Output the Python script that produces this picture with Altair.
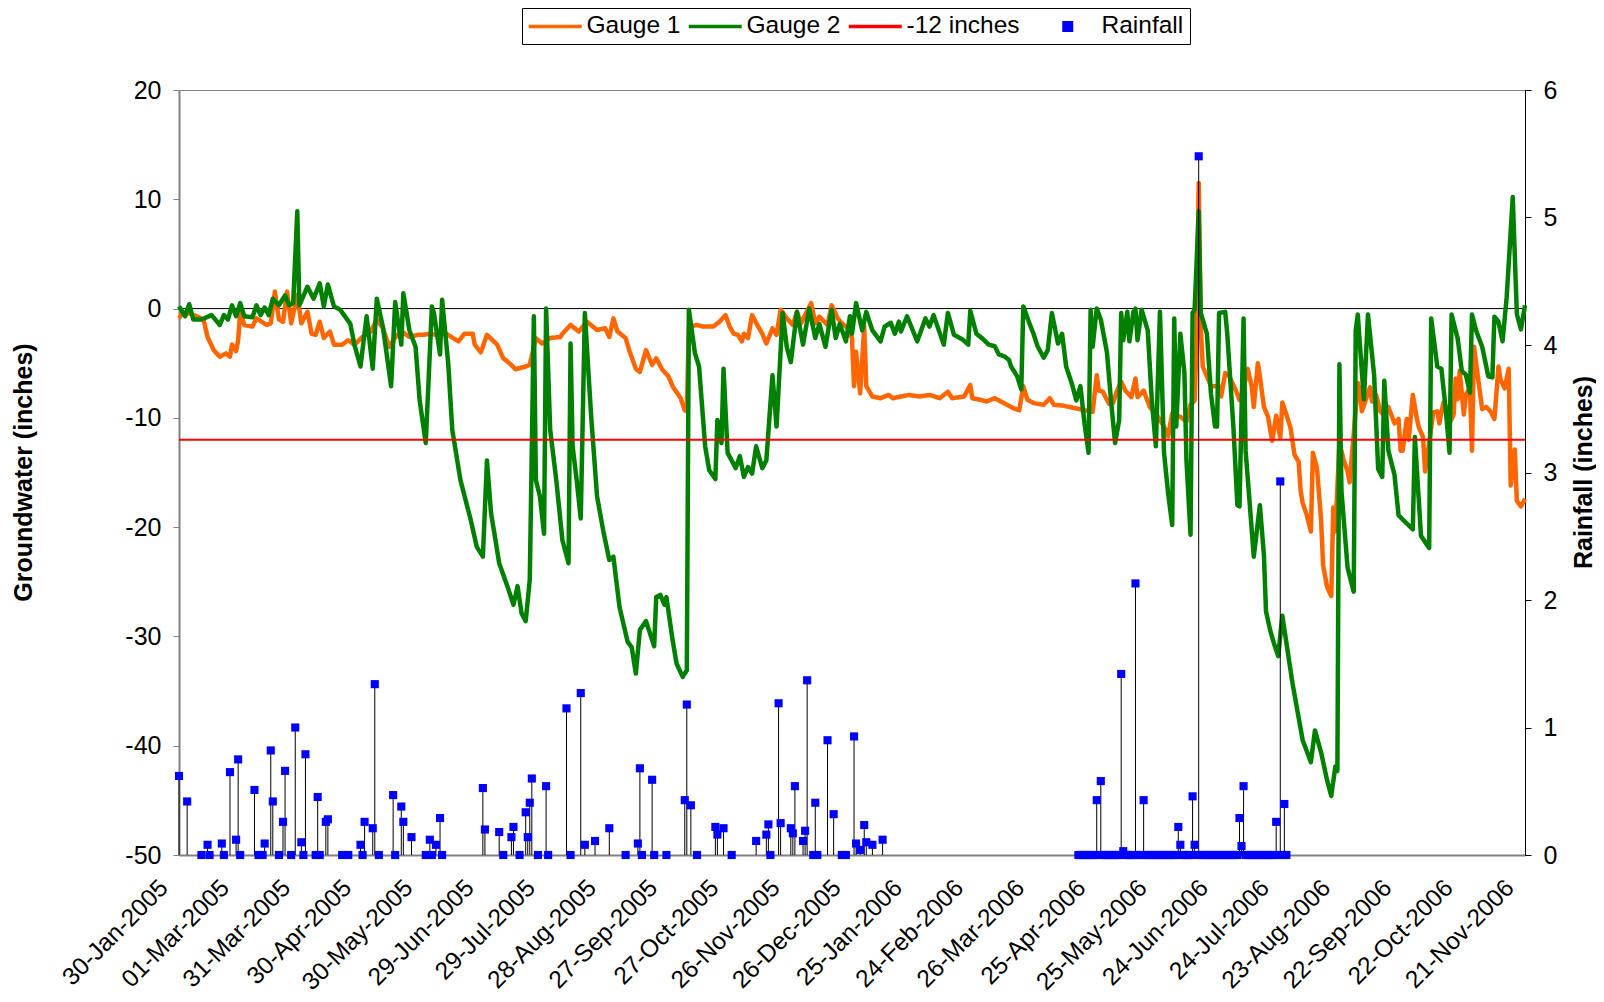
import altair as alt
import pandas as pd

START = "2005-01-30"
END_DAY = 660
TICK_DAYS = [0, 30, 60, 90, 120, 150, 180, 210, 240, 270, 300, 330, 360, 390, 420, 450, 480, 510, 540, 570, 600, 630, 660]

SERIES = ["Gauge 1", "Gauge 2", "-12 inches", "Rainfall"]
COLORS = ["#FF6600", "#008000", "#FF0000", "#0000FF"]

# Gauge 1 (days since 30-Jan-2005, inches)
g1_day = [0, 2, 5, 9, 12, 14, 17, 20, 23, 25, 26, 28, 29, 30, 32, 36, 38, 43, 45, 47, 49, 51, 53, 55, 58, 60, 63, 65, 67, 69,
          71, 74, 76, 80, 83, 86, 90, 94, 97, 100, 103, 107, 110, 113, 117, 120, 123, 126, 131, 137, 140, 144, 145, 148, 151,
          156, 159, 162, 165, 170, 172, 175, 178, 182, 187, 188, 192, 196, 200, 205, 209, 211, 213, 215, 219, 221, 224, 226,
          229, 232, 234, 237, 240, 242, 246, 248, 249, 250, 254, 257, 262, 265, 268, 270, 272, 274, 276, 277, 279, 281, 284,
          286, 288, 291, 293, 295, 298, 301, 303, 305, 310, 312, 314, 318, 320, 323, 325, 328, 330, 331, 332, 334, 336, 337,
          340, 344, 348, 350, 354, 358, 363, 368, 373, 377, 379, 385, 388, 389, 393, 396, 400, 403, 406, 409, 412, 414, 416,
          419, 424, 427, 429, 434, 439, 444, 448, 450, 451, 453, 456, 458, 460, 462, 464, 467, 469, 470, 473, 476, 480, 483,
          485, 487, 491, 494, 496, 498, 499, 500, 501, 502, 504, 506, 510, 511, 513, 515, 518, 520, 522, 524, 526, 527, 529,
          530, 532, 534, 536, 538, 540, 541, 543, 545, 547, 549, 550, 551, 553, 554, 555, 556, 558, 560, 561, 563, 565, 566,
          567, 569, 571, 573, 574, 576, 578, 579, 580, 582, 584, 585, 587, 589, 591, 593, 596, 598, 599, 600, 602, 603, 605,
          607, 608, 610, 611, 613, 615, 617, 618, 620, 622, 623, 625, 626, 627, 628, 630, 631, 633, 634, 635, 637, 639, 641,
          643, 645, 647, 648, 650, 652, 653, 655, 656, 658, 660]
g1_val = [-0.9, -0.3, -0.45, -0.74, -1.0, -2.6, -3.8, -4.4, -4.1, -4.4, -3.3, -3.9, -2.9, -0.3, -1.5, -1.65, -0.9, -1.5, -1.35,
          1.55, -1.0, -1.2, 1.55, -1.35, 1.24, -1.35, -0.3, -2.3, -2.4, -1.2, -2.7, -2.1, -3.3, -3.3, -2.9, -3.3, -2.6, -2.1,
          -1.0, -1.8, -3.5, -2.4, -2.2, -2.6, -2.4, -2.4, -2.3, -2.4, -2.3, -3.0, -2.3, -2.3, -3.3, -4.0, -2.4, -3.3, -4.55,
          -5.0, -5.55, -5.3, -5.15, -2.7, -3.2, -2.7, -2.6, -2.3, -1.5, -2.1, -1.2, -1.96, -1.8, -2.6, -0.9, -2.1, -2.7,
          -3.95, -5.5, -5.8, -3.8, -5.15, -4.55, -5.6, -6.2, -7.1, -8.2, -9.3, -9.4, -1.65, -1.5, -1.65, -1.65, -1.2, -0.6,
          -1.65, -2.3, -2.4, -3.0, -2.3, -2.7, -0.6, -1.65, -2.3, -3.2, -1.8, -2.4, -0.1, -0.9, -1.5, -0.3, -1.35, 0.5, -1.35,
          -0.74, -1.5, 0.3, -0.9, -1.35, -1.8, -2.7, -7.1, -3.95, -7.75, -1.65, -7.1, -8.05, -8.2, -7.9, -8.2, -8.05, -7.9,
          -8.05, -7.9, -8.2, -7.6, -8.2, -8.05, -7.0, -8.2, -8.35, -8.5, -8.2, -8.5, -8.8, -9.1, -9.3, -7.1, -8.35, -8.65,
          -8.8, -8.2, -8.8, -8.9, -9.1, -9.3, -9.45, -6.1, -7.5, -7.6, -8.7, -8.65, -7.5, -6.7, -7.5, -8.1, -6.4, -8.1, -7.5,
          -9.0, -9.9, -10.8, -11.7, -9.6, -9.9, -10.35, -8.8, -8.4, -2.9, 11.5, -1.65, -5.3, -6.2, -7.1, -7.1, -8.05, -5.9,
          -6.2, -7.4, -8.35, -7.4, -5.5, -7.1, -9.0, -5.0, -6.2, -9.0, -9.9, -12.1, -9.8, -11.8, -8.6, -9.7, -10.9, -13.4,
          -14.0, -16.7, -17.8, -18.9, -19.65, -20.4, -13.2, -14.6, -19.3, -23.5, -25.5, -26.3, -18.2, -20.4, -12.3, -13.8,
          -14.9, -15.9, -11.5, -6.8, -7.6, -9.4, -8.3, -7.2, -8.5, -7.9, -9.4, -9.8, -9.0, -10.5, -10.1, -13.0, -13.0, -10.1,
          -12.0, -7.9, -10.1, -10.9, -11.75, -14.9, -12.3, -9.5, -9.4, -10.5, -8.6, -9.2, -10.5, -9.7, -6.4, -8.3, -5.7, -9.7,
          -7.9, -7.2, -13.0, -3.5, -6.4, -9.2, -9.0, -9.4, -10.1, -5.3, -6.5, -7.3, -5.5, -16.2, -12.9, -17.6, -18.1, -17.4]

# Gauge 2
g2_day = [0, 3, 5, 7, 11, 16, 20, 22, 24, 26, 28, 30, 32, 36, 38, 40, 42, 44, 46, 49, 52, 54, 56, 58, 59, 63, 66, 69, 71, 73,
          76, 79, 84, 86, 89, 92, 95, 97, 100, 104, 106, 109, 110, 113, 116, 118, 121, 124, 125, 128, 129, 132, 134, 138, 143,
          146, 149, 151, 153, 157, 161, 164, 166, 168, 170, 172, 174, 175, 177, 179, 180, 182, 185, 188, 191, 192, 193, 195,
          197, 199, 202, 205, 208, 211, 213, 216, 220, 222, 224, 226, 229, 233, 234, 236, 238, 239, 242, 244, 247, 249, 250,
          253, 255, 258, 260, 263, 264, 266, 267, 269, 273, 275, 277, 279, 281, 283, 286, 288, 291, 293, 296, 298, 300, 303,
          306, 309, 312, 314, 317, 320, 322, 324, 327, 329, 330, 332, 335, 337, 340, 344, 346, 349, 351, 353, 354, 357, 362,
          366, 368, 370, 375, 377, 380, 384, 387, 388, 391, 394, 397, 400, 402, 405, 407, 408, 411, 413, 414, 417, 419, 421,
          424, 426, 428, 431, 433, 435, 438, 440, 442, 444, 446, 447, 448, 450, 452, 455, 457, 459, 461, 462, 463, 465, 466,
          468, 469, 470, 472, 475, 477, 479, 481, 483, 485, 487, 488, 489, 491, 493, 494, 496, 497, 498, 500, 501, 504, 506,
          508, 509, 510, 513, 514, 517, 519, 520, 522, 523, 525, 527, 530, 532, 533, 535, 537, 539, 541, 546, 551, 555, 557,
          560, 563, 565, 567, 568, 569, 570, 573, 576, 577, 578, 581, 583, 586, 588, 590, 591, 593, 596, 598, 600, 605, 606,
          609, 613, 614, 617, 619, 621, 623, 624, 627, 629, 631, 633, 634, 636, 639, 642, 644, 645, 647, 649, 651, 654, 656,
          658, 660]
g2_val = [0.2, -0.7, 0.4, -1.0, -1.0, -0.6, -1.5, -0.6, -1.0, 0.3, -0.7, 0.5, -0.7, -0.8, 0.3, -0.6, 0.1, -0.6, 0.9, 0.3,
          1.2, 0.3, 0.5, 8.9, 0.3, 2.0, 0.9, 2.3, 0.2, 2.2, 0.2, -0.1, -1.4, -3.3, -5.3, -0.7, -5.5, 0.9, -1.7, -7.1, 0.6,
          -3.3, 1.4, -2.0, -3.5, -8.4, -12.3, 0.2, -0.4, -4.2, 0.8, -5.0, -11.1, -15.7, -19.3, -21.8, -22.7, -13.9, -18.7,
          -23.3, -25.4, -27.1, -25.4, -27.9, -28.6, -24.8, -0.7, -15.7, -17.2, -20.6, 0.0, -11.1, -15.7, -21.2, -23.3, -3.2,
          -12.6, -15.7, -19.2, -0.4, -9.6, -17.2, -20.3, -23.0, -22.7, -27.3, -30.5, -31.0, -33.4, -29.4, -28.6, -30.9,
          -26.4, -26.2, -27.1, -26.4, -30.3, -32.5, -33.7, -33.1, -0.1, -4.1, -5.3, -12.6, -14.8, -15.6, -10.2, -12.3, -5.5,
          -13.2, -14.6, -13.5, -15.4, -14.5, -15.1, -12.6, -14.6, -13.9, -6.1, -10.8, -0.4, -3.5, -4.9, -0.3, -3.3, 0.0,
          -2.7, -1.4, -3.5, -0.1, -2.7, -1.4, -3.0, -0.7, -2.3, 0.5, -2.0, -0.3, -2.0, -3.0, -1.65, -1.3, -2.3, -1.2, -2.1,
          -0.7, -3.0, -0.9, -1.65, -0.6, -3.3, -0.4, -2.4, -2.8, -3.3, -0.2, -2.3, -2.75, -3.3, -3.45, -4.2, -4.4, -4.7,
          -5.3, -6.2, -7.4, 0.2, -1.35, -2.3, -3.45, -4.5, -3.8, -0.4, -3.2, -2.3, -5.3, -7.0, -8.4, -7.1, -10.5, -13.2,
          -0.1, -3.5, 0.0, -1.0, -4.0, -8.4, -12.3, -10.2, -0.4, -2.9, -0.3, -3.0, -0.3, 0.0, -2.9, -0.1, -2.0, -8.4, -12.6,
          -0.3, -13.2, -16.9, -19.8, -0.9, -10.8, -2.3, -5.9, -13.9, -20.7, -0.4, -0.1, 8.9, -0.4, -2.3, -7.75, -10.8,
          -10.8, -0.4, -0.3, -2.3, -10.8, -18.0, -18.1, -0.9, -13.0, -17.8, -22.7, -18.0, -22.6, -27.7, -29.4, -30.7,
          -31.8, -28.1, -34.3, -39.5, -41.5, -38.6, -40.6, -43.2, -44.6, -41.9, -42.3, -5.1, -16.7, -23.7, -25.9, -2.0,
          -0.55, -8.3, -0.55, -6.05, -14.7, -15.4, -6.6, -13.0, -15.2, -18.9, -19.3, -20.2, -11.75, -20.8, -21.9, -0.9,
          -5.3, -5.5, -9.0, -13.2, -0.55, -2.75, -5.7, -6.05, -7.7, -0.55, -2.0, -3.5, -6.2, -6.3, -0.75, -1.2, -3.0, 1.0,
          10.2, -0.5, -1.9, 0.3]

# Rainfall, 2005 season (days since 30-Jan-2005, inches)
rain_day = [0, 4, 11, 14, 15, 21, 22, 25, 28, 29, 30, 37, 39, 41, 42, 45, 46, 49, 51, 52, 55, 57, 60, 61, 62, 67, 68, 69, 72,
            73, 80, 83, 89, 90, 91, 95, 96, 98, 105, 106, 109, 110, 114, 121, 123, 124, 126, 128, 129, 149, 150, 157, 159,
            163, 164, 167, 170, 171, 172, 173, 176, 180, 181, 190, 192, 197, 199, 204, 211, 219, 225, 226, 227, 232, 233,
            239, 248, 249, 251, 254, 263, 264, 267, 271, 283, 288, 289, 290, 294, 295, 300, 301, 302, 306, 307, 308, 311,
            312, 313, 318, 321, 325, 327, 331, 332, 334, 336, 337, 340, 345]
rain_in = [0.62, 0.42, 0.0, 0.08, 0.0, 0.09, 0.0, 0.65, 0.12, 0.75, 0.0, 0.51, 0.0, 0.0, 0.09, 0.82, 0.42, 0.0, 0.26, 0.66,
           0.0, 1.0, 0.1, 0.0, 0.79, 0.0, 0.455, 0.0, 0.26, 0.28, 0.0, 0.0, 0.08, 0.0, 0.26, 0.21, 1.34, 0.0, 0.47, 0.0,
           0.38, 0.26, 0.14, 0.0, 0.12, 0.0, 0.08, 0.29, 0.0, 0.525, 0.2, 0.18, 0.0, 0.14, 0.22, 0.0, 0.335, 0.14, 0.41,
           0.6, 0.0, 0.54, 0.0, 1.15, 0.0, 1.27, 0.08, 0.11, 0.21, 0.0, 0.09, 0.68, 0.0, 0.59, 0.0, 0.0, 0.43, 1.18, 0.39,
           0.0, 0.22, 0.16, 0.21, 0.0, 0.11, 0.16, 0.24, 0.0, 1.19, 0.25, 0.21, 0.17, 0.54, 0.11, 0.19, 1.37, 0.0, 0.41, 0.0,
           0.9, 0.32, 0.0, 0.0, 0.93, 0.09, 0.04, 0.235, 0.1, 0.08, 0.12]

# Rainfall, 2006 season: daily readings from day 441 to day 543
RAIN06_START = 441
rain06_in = [0, 0, 0, 0, 0, 0, 0, 0, 0, 0.43, 0, 0.58, 0, 0, 0, 0, 0, 0, 0, 0, 0, 1.42, 0.03, 0, 0, 0, 0, 0, 2.13, 0, 0, 0,
             0.43, 0, 0, 0, 0, 0, 0, 0, 0, 0, 0, 0, 0, 0, 0, 0, 0, 0.22, 0.08, 0, 0, 0, 0, 0, 0.46, 0.08, 0, 5.48, 0, 0, 0,
             0, 0, 0, 0, 0, 0, 0, 0, 0, 0, 0, 0, 0, 0, 0, 0, 0.29, 0.07, 0.54, 0, 0, 0, 0, 0, 0, 0, 0, 0, 0, 0, 0, 0, 0, 0,
             0.26, 0, 2.93, 0, 0.40, 0]

FONT = "Liberation Sans"
MINUS_FIX = "replace(datum.label, '\u2212', '-')"
base = pd.Timestamp(START)


def to_ms(days):
    return [int((base + pd.Timedelta(days=d)).value // 10**6) for d in days]


lines_df = pd.DataFrame({
    "t": to_ms(g1_day) + to_ms(g2_day),
    "v": g1_val + g2_val,
    "series": ["Gauge 1"] * len(g1_day) + ["Gauge 2"] * len(g2_day),
})
r_days = rain_day + [RAIN06_START + i for i in range(len(rain06_in))]
rain_df = pd.DataFrame({"t": to_ms(r_days), "r": rain_in + rain06_in})
red_df = pd.DataFrame({"y": [-12]})
zero_df = pd.DataFrame({"y": [0]})
legend_df = pd.DataFrame({"series": SERIES})

start_ms, end_ms = to_ms([0, END_DAY])
x_enc = alt.X(
    "t:T",
    title=None,
    scale=alt.Scale(type="utc", domain=[start_ms, end_ms]),
    axis=alt.Axis(values=to_ms(TICK_DAYS), format="%d-%b-%Y", labelAngle=315, labelAlign="right",
                  labelBaseline="middle", labelPadding=29, labelOffset=-15, ticks=False, labelFontSize=24.5,
                  domainColor="#808080", domainWidth=2, labelFlush=False, labelOverlap=False, labelBound=False),
)

# legend: line-shaped symbols for the three lines, a square for rainfall
# (the square's path carries a leading move-to so that its entry keeps a wider left margin)
LINE_SYM = "M-2.3,0H8.3"
SQUARE_SYM = "M-5.6,0M1.75,-0.75H3.25V0.75H1.75Z"
legend_props = dict(
    orient="none", legendX=343, legendY=-82, direction="horizontal", title=None,
    strokeColor="black", fillColor="white", padding=6, columnPadding=0, labelOffset=34,
    labelFont=FONT, labelFontSize=24.5, labelColor="black", symbolStrokeWidth=3.5, symbolSize=100,
    symbolOpacity=1, cornerRadius=0,
)
color_scale = alt.Scale(domain=SERIES, range=COLORS)
legend_layer = alt.Chart(legend_df).mark_point(filled=True, opacity=0, size=1).encode(
    color=alt.Color("series:N", scale=color_scale, legend=alt.Legend(**legend_props)),
    stroke=alt.Stroke("series:N", scale=color_scale, legend=alt.Legend(**legend_props)),
    shape=alt.Shape("series:N", scale=alt.Scale(domain=SERIES, range=[LINE_SYM, LINE_SYM, LINE_SYM, SQUARE_SYM]),
                    legend=alt.Legend(**legend_props)),
)

y_left = alt.Y(
    "v:Q", title="Groundwater (inches)",
    scale=alt.Scale(domain=[-50, 20], nice=False, zero=False),
    axis=alt.Axis(orient="left", values=[-50, -40, -30, -20, -10, 0, 10, 20], tickSize=6, labelPadding=12,
                  domainColor="#808080", domainWidth=2, tickColor="#808080", labelExpr=MINUS_FIX,
                  titleX=-156, titleY=382, titleAngle=270, titleAlign="center", titleBaseline="middle"),
)

zero_line = alt.Chart(zero_df).mark_rule(color="black", strokeWidth=1).encode(y=alt.Y("y:Q"))
gauges = alt.Chart(lines_df).mark_line(strokeWidth=4.5, strokeJoin="round").encode(
    x=x_enc, y=y_left, color=alt.Color("series:N", scale=color_scale, legend=None))
red = alt.Chart(red_df).mark_rule(strokeWidth=2, color="#FF0000").encode(y=alt.Y("y:Q"))
left = alt.layer(legend_layer, zero_line, gauges, red)

y_right = alt.Y(
    "r:Q", title="Rainfall (inches)",
    scale=alt.Scale(domain=[0, 6], nice=False),
    axis=alt.Axis(orient="right", values=[0, 1, 2, 3, 4, 5, 6], tickSize=6, labelPadding=12,
                  domainColor="black", domainWidth=1, tickColor="black",
                  titleX=58, titleY=382, titleAngle=270, titleAlign="center", titleBaseline="middle"),
)
stems = alt.Chart(rain_df).mark_rule(color="black", strokeWidth=1).encode(x=x_enc, y=y_right, y2=alt.datum(0))
squares = alt.Chart(rain_df).mark_square(filled=True, opacity=1, size=66, color="#0000FF").encode(x=x_enc, y=y_right)
right = alt.layer(stems, squares)

chart = (
    alt.layer(left, right)
    .resolve_scale(y="independent")
    .properties(width=1346, height=765, autosize=alt.AutoSizeParams(type="none"),
                padding={"left": 171, "top": 82, "right": 71, "bottom": 139})
    .configure_view(stroke="#808080", strokeWidth=1)
    .configure_axis(labelFont=FONT, labelFontSize=25, labelColor="black", titleFont=FONT, titleFontSize=25,
                    titleFontWeight="bold", titleColor="black", grid=False)
)

chart.save("out.html", embed_options={"renderer": "svg", "actions": False})
